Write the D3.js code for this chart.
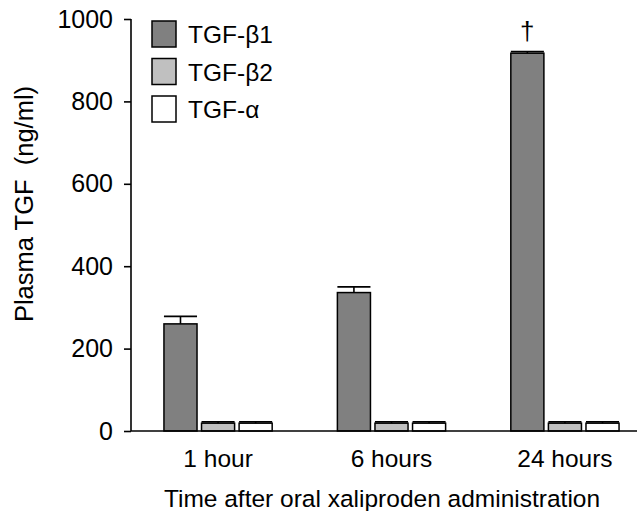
<!DOCTYPE html>
<html>
<head>
<meta charset="utf-8">
<script src="https://cdn.jsdelivr.net/npm/d3@7"></script>
<style>
  body { margin: 0; background: #fff; }
  svg { display: block; font-family: Arial, "Liberation Sans", sans-serif; }
</style>
</head>
<body>
<svg id="chart" width="637" height="511"></svg>
<script>
// data
const categories = ['1 hour', '6 hours', '24 hours'];
const seriesNames = ['TGF-\u03b21', 'TGF-\u03b22', 'TGF-\u03b1'];
const beta1 = [260, 336, 917];
const beta1Err = [18, 14, 4];
const beta2 = [19, 19, 19];
const beta2Err = [3, 3, 3];
const alpha = [19, 19, 19];
const alphaErr = [3, 3, 3];
const yTicks = [0, 200, 400, 600, 800, 1000];
const fills = ['#808080', '#c0c0c0', '#ffffff'];

const svg = d3.select('#chart');
const axisX = 131, baseY = 431;

const values = [beta1, beta2, alpha];
const errs = [beta1Err, beta2Err, alphaErr];
let rows = [];
categories.forEach((c, i) => {
  seriesNames.forEach((s, j) => {
    rows.push({cat: c, ser: s, idx: j, v: values[j][i], e: errs[j][i]});
  });
});

const y = d3.scaleLinear().domain([0, 1000]).range([baseY, 19]);
const x0 = d3.scaleBand().domain(categories).range([axisX, 652])
  .paddingInner(0.376).paddingOuter(0.19);
const x1 = d3.scaleBand().domain(seriesNames).range([0, x0.bandwidth()])
  .paddingInner(0.12);

// y axis
const yAxis = svg.append('g')
  .attr('transform', `translate(${axisX},0)`)
  .call(d3.axisLeft(y).tickValues(yTicks).tickFormat(d3.format('d'))
    .tickSize(7).tickPadding(11));
yAxis.attr('font-size', null).attr('font-family', null);
yAxis.select('.domain').attr('d', `M0,${y(1000)}V${baseY}`).attr('stroke-width', 1.6);
yAxis.selectAll('.tick line').attr('stroke-width', 1.6);
yAxis.selectAll('.tick text').attr('font-size', 25).attr('fill', '#000');

// bars
const g = svg.append('g');
g.selectAll('rect.bar')
  .data(rows)
  .enter()
  .append('rect')
  .attr('class', 'bar')
  .attr('x', d => x0(d.cat) + x1(d.ser))
  .attr('y', d => y(d.v))
  .attr('width', x1.bandwidth())
  .attr('height', d => baseY - y(d.v))
  .attr('fill', d => fills[d.idx])
  .attr('stroke', '#000')
  .attr('stroke-width', 1.5);

// error bars
const eb = g.selectAll('g.err')
  .data(rows)
  .enter()
  .append('g')
  .attr('class', 'err');
eb.append('line')
  .attr('x1', d => x0(d.cat) + x1(d.ser) + x1.bandwidth() / 2)
  .attr('x2', d => x0(d.cat) + x1(d.ser) + x1.bandwidth() / 2)
  .attr('y1', d => y(d.v))
  .attr('y2', d => y(d.v + d.e))
  .attr('stroke', '#000').attr('stroke-width', 1.6);
eb.append('line')
  .attr('x1', d => x0(d.cat) + x1(d.ser))
  .attr('x2', d => x0(d.cat) + x1(d.ser) + x1.bandwidth())
  .attr('y1', d => y(d.v + d.e))
  .attr('y2', d => y(d.v + d.e))
  .attr('stroke', '#000').attr('stroke-width', 1.8);

// x axis line
svg.append('line')
  .attr('x1', axisX).attr('x2', 637)
  .attr('y1', baseY).attr('y2', baseY)
  .attr('stroke', '#000').attr('stroke-width', 1.6);

// category labels
svg.selectAll('text.cat')
  .data(categories)
  .enter()
  .append('text')
  .attr('class', 'cat')
  .attr('x', d => x0(d) + x0.bandwidth() / 2)
  .attr('y', 467)
  .attr('text-anchor', 'middle')
  .attr('font-size', 24.5)
  .text(d => d);

// dagger above 24 h TGF-b1
svg.append('text')
  .attr('x', x0(categories[2]) + x1(seriesNames[0]) + x1.bandwidth() / 2)
  .attr('y', y(beta1[2] + beta1Err[2]) - 12)
  .attr('text-anchor', 'middle')
  .attr('font-size', 26)
  .text('\u2020');

// axis titles
svg.append('text')
  .attr('x', 382).attr('y', 507)
  .attr('text-anchor', 'middle')
  .attr('font-size', 24.5)
  .text('Time after oral xaliproden administration');

svg.append('text')
  .attr('transform', 'rotate(-90)')
  .attr('x', -204).attr('y', 33)
  .attr('text-anchor', 'middle')
  .attr('font-size', 25.5)
  .style('white-space', 'pre')
  .text('Plasma TGF  (ng/ml)');

// legend
const leg = svg.append('g').selectAll('g')
  .data(seriesNames)
  .enter()
  .append('g')
  .attr('transform', (d, i) => `translate(152,${21 + i * 37.5})`);
leg.append('rect')
  .attr('width', 24).attr('height', 26)
  .attr('fill', (d, i) => fills[i])
  .attr('stroke', '#000').attr('stroke-width', 1.5);
leg.append('text')
  .attr('x', 36).attr('y', 22)
  .attr('font-size', 24.5)
  .text(d => d);
</script>
</body>
</html>
